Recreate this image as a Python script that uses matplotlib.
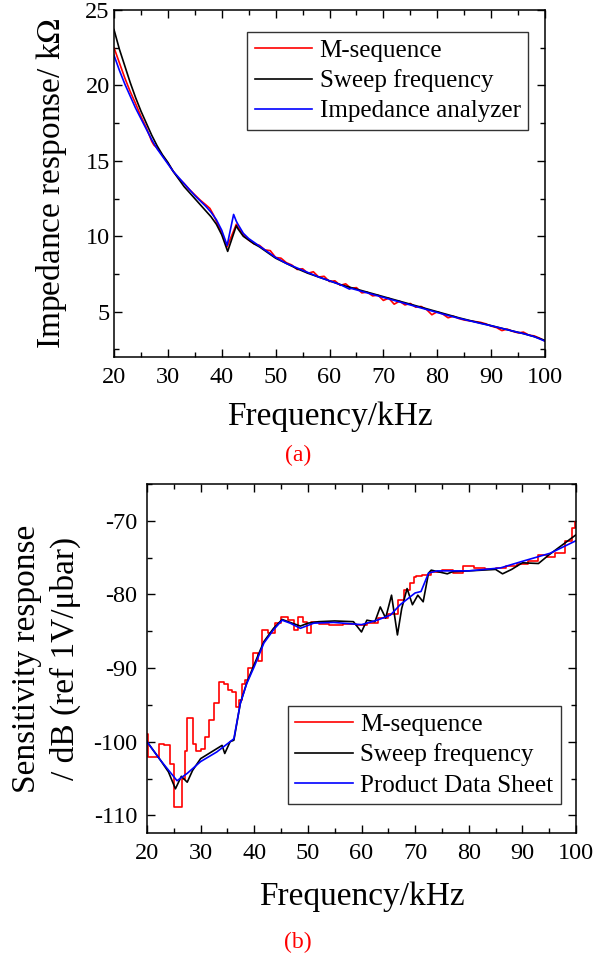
import numpy as np
import matplotlib
matplotlib.use("Agg")
import matplotlib.pyplot as plt
from matplotlib.ticker import MultipleLocator

plt.rcParams['font.family'] = ['Liberation Serif', 'DejaVu Serif']
plt.rcParams['mathtext.fontset'] = 'stix'
plt.rcParams['axes.unicode_minus'] = False

# ---- (a) impedance response, kOhm ----
imp_f = [20, 21, 22, 23, 24, 25, 26, 27, 28, 29, 30, 31, 32, 33, 34, 35, 36, 37, 38, 39,
         40, 41, 42.2, 42.7, 43, 44, 45, 46, 47, 48, 50, 52, 54, 56, 58, 60, 62, 63.7, 64,
         66, 68, 70, 72, 74, 76, 78, 80, 82, 84, 86, 88, 90, 92, 94, 96, 98, 100]
imp_analyzer = [22.0, 21.0, 20.1, 19.3, 18.5, 17.8, 17.1, 16.4, 15.8, 15.3, 14.8, 14.3, 13.9,
                13.5, 13.1, 12.7, 12.35, 12.0, 11.6, 11.1, 10.4, 9.4, 11.45, 11.0, 10.8, 10.2,
                9.85, 9.6, 9.35, 9.1, 8.6, 8.2, 7.9, 7.6, 7.3, 7.05, 6.8, 6.5, 6.55, 6.35, 6.15,
                5.95, 5.75, 5.55, 5.35, 5.15, 4.95, 4.75, 4.57, 4.4, 4.23, 4.07, 3.9, 3.72,
                3.55, 3.35, 3.05]

sweep_f = [20, 21, 22, 23, 24, 25, 26, 27, 28, 29, 30, 31, 32, 33, 34, 35, 36, 37, 38, 39,
           40, 41.1, 42.7, 43, 44, 45, 46, 47, 48, 50, 52, 54, 56, 58, 60, 62, 64, 66, 68,
           70, 72, 74, 76, 78, 80, 82, 84, 86, 88, 90, 92, 94, 96, 98, 100]
sweep_imp = [23.7, 22.4, 21.3, 20.2, 19.2, 18.3, 17.5, 16.7, 16.0, 15.4, 14.9, 14.3, 13.8,
             13.3, 12.9, 12.5, 12.1, 11.7, 11.3, 10.8, 10.1, 9.0, 10.7, 10.5, 10.0, 9.75, 9.5,
             9.3, 9.05, 8.55, 8.2, 7.85, 7.55, 7.3, 7.05, 6.8, 6.6, 6.4, 6.2, 6.0, 5.8, 5.6,
             5.4, 5.2, 5.0, 4.8, 4.6, 4.42, 4.25, 4.08, 3.9, 3.72, 3.55, 3.35, 3.1]

mseq_f = [20, 21, 22, 23, 24, 25, 26, 27, 27.4, 28, 29, 30, 31, 32, 33, 34, 35, 36, 37, 37.8,
          38.5, 39, 40, 41, 42.7, 43, 44, 45, 46, 47, 48, 49, 50, 51, 52, 53, 54, 55, 56, 57,
          58, 59, 60, 61, 62, 63, 64, 65, 66, 67, 68, 69, 70, 71, 72, 73, 74, 75, 76, 77, 78,
          79, 80, 81, 82, 83, 84, 85, 86, 87, 88, 89, 90, 91, 92, 93, 94, 95, 96, 97, 98, 99, 100]
mseq_imp = [22.5, 21.5, 20.5, 19.6, 18.8, 17.95, 17.2, 16.3, 16.05, 15.85, 15.35, 14.85, 14.3,
            13.85, 13.5, 13.1, 12.75, 12.4, 12.1, 11.85, 11.4, 11.0, 10.2, 9.3, 10.8, 10.6,
            10.1, 9.75, 9.5, 9.4, 9.1, 9.05, 8.6, 8.55, 8.25, 8.1, 7.8, 7.85, 7.55, 7.65, 7.3,
            7.35, 7.0, 7.05, 6.75, 6.85, 6.55, 6.6, 6.25, 6.3, 6.05, 6.1, 5.75, 5.9, 5.5, 5.7,
            5.45, 5.55, 5.3, 5.35, 5.15, 4.8, 5.0, 4.85, 4.6, 4.7, 4.55, 4.45, 4.4, 4.35, 4.3,
            4.2, 4.05, 3.95, 3.75, 3.85, 3.7, 3.6, 3.65, 3.45, 3.4, 3.25, 3.05]

# ---- (b) sensitivity response, dB ----
pds_f = [20, 22.5, 25.6, 27.5, 30, 33, 35.5, 36.2, 37.4, 38.6, 40, 41.8, 43.6, 45.2, 46.7,
         48.6, 51.1, 54.8, 60, 62.9, 65.4, 67.2, 70, 71.1, 72.5, 74.1, 80, 85.9, 90, 95.2, 100]
pds_db = [-100.0, -102.5, -105.3, -104.3, -102.7, -101.4, -100.0, -99.6, -94.8, -92.1, -89.8,
          -86.6, -84.8, -83.5, -83.9, -84.6, -83.9, -83.8, -84.1, -83.5, -82.8, -81.4, -79.8,
          -79.6, -77.1, -76.8, -76.8, -76.4, -75.5, -74.4, -72.7]

sweep2_f = [20, 22.5, 24, 25.3, 26.4, 27.5, 28.5, 30, 32, 34, 34.5, 35.5, 36.2, 37.4, 38.6,
            40, 41.8, 43.6, 45.2, 46.7, 48.6, 50, 52, 55, 58.5, 60, 61, 62.5, 63.5, 64.5,
            65.6, 66.7, 67.5, 68.5, 69.5, 70.5, 71.5, 72.5, 73, 76, 77, 80, 85, 86.3, 88, 90,
            93, 95, 100]
sweep2_db = [-100.0, -102.5, -104.1, -106.4, -104.7, -105.5, -103.9, -102.3, -101.4, -100.5,
             -101.6, -100.0, -99.8, -94.8, -92.0, -89.5, -86.4, -84.6, -83.4, -83.8, -84.3,
             -83.9, -83.7, -83.6, -83.7, -85.1, -83.5, -83.7, -81.7, -83.2, -80.1, -85.5,
             -81.9, -79.2, -81.4, -80.1, -81.0, -77.1, -76.7, -77.2, -76.9, -76.8, -76.6,
             -77.2, -76.6, -75.7, -75.8, -74.6, -71.9]

mseq2_f = [20, 20.5, 22, 22.5, 24, 24.7, 25.5, 26.2, 26.8, 27.3, 27.8, 28.2, 28.8, 29.5, 30.5,
           31.3, 32, 33, 33.8, 34.8, 35.5, 36.3, 37, 37.4, 38, 38.6, 39.2, 40.3, 41, 42, 43.3,
           44.5, 45.5, 47, 47.8, 48.5, 49.5, 50.2, 51, 53, 55, 58, 60, 62, 64, 66, 67.5, 68.5,
           69.5, 70, 70.5, 72, 74, 76, 78, 80, 82, 84, 86, 88, 90, 92, 94, 95, 97, 99, 99.6, 100]
mseq2_db = [-98.9, -102.1, -102.1, -100.3, -100.5, -103.0, -108.9, -108.9, -105.0, -101.2,
            -96.8, -96.8, -100.3, -101.2, -101.0, -99.3, -97.1, -94.8, -91.9, -92.1, -93.0,
            -93.2, -95.3, -94.4, -92.1, -91.6, -90.0, -88.0, -89.1, -84.8, -85.3, -83.9, -83.0,
            -83.5, -84.8, -83.0, -83.7, -85.3, -83.8, -84.0, -84.1, -84.0, -84.1, -83.9, -83.2,
            -82.6, -80.7, -79.4, -78.5, -77.6, -77.5, -77.3, -76.9, -76.7, -77.1, -76.1, -76.4,
            -76.6, -76.4, -76.2, -75.9, -75.4, -74.6, -74.9, -74.4, -72.8, -71.0, -70.1]

fig = plt.figure(figsize=(5.95, 9.6), dpi=100)
W, H = 595.0, 960.0

ax1 = fig.add_axes([114 / W, 1 - 357 / H, 431 / W, 347 / H])
ax2 = fig.add_axes([147 / W, 1 - 833 / H, 429 / W, 349 / H])

lw = 1.2
ax1.plot(mseq_f, mseq_imp, color='#ff0000', lw=lw, label='M-sequence')
ax1.plot(sweep_f, sweep_imp, color='black', lw=lw, label='Sweep frequency')
ax1.plot(imp_f, imp_analyzer, color='#0000ff', lw=lw, label='Impedance analyzer')

ax2.plot(mseq2_f, mseq2_db, color='#ff0000', lw=lw, label='M-sequence', drawstyle='steps-mid')
ax2.plot(sweep2_f, sweep2_db, color='black', lw=lw, label='Sweep frequency')
ax2.plot(pds_f, pds_db, color='#0000ff', lw=lw, label='Product Data Sheet')

for ax in (ax1, ax2):
    ax.set_xlim(20, 100)
    ax.xaxis.set_major_locator(MultipleLocator(10))
    ax.xaxis.set_minor_locator(MultipleLocator(5))
    ax.tick_params(which='both', direction='in', top=True, right=True, labelsize=17.5)
    ax.tick_params(which='major', length=6, width=1)
    ax.tick_params(which='minor', length=3.5, width=1)
    ax.tick_params(axis='x', pad=7)
    for s in ax.spines.values():
        s.set_linewidth(1.1)
    ax.set_xlabel('Frequency/kHz', fontsize=24)
    ax.xaxis.label.set_verticalalignment('center')

ax1.set_ylim(2, 25)
ax1.yaxis.set_major_locator(MultipleLocator(5))
ax1.yaxis.set_minor_locator(MultipleLocator(2.5))
ax1.tick_params(axis='y', pad=3)
ax1.set_ylabel('Impedance response/ k$\\Omega$', fontsize=24)
ax1.yaxis.set_label_coords(-0.105, 0.5)
ax1.xaxis.set_label_coords(0.5, -0.173)

ax2.set_ylim(-112.4, -65)
ax2.yaxis.set_major_locator(MultipleLocator(10))
ax2.yaxis.set_minor_locator(MultipleLocator(5))
ax2.tick_params(axis='y', pad=7)
ax2.set_ylabel('Sensitivity response\n/ dB (ref 1V/\u03bcbar)', fontsize=24, linespacing=1.3)
ax2.yaxis.set_label_coords(-0.155, 0.5)
ax2.xaxis.set_label_coords(0.5, -0.183)

leg_kw = dict(fontsize=18, frameon=True, fancybox=False, edgecolor='black',
              handlelength=2.3, handletextpad=0.3, borderpad=0.3, labelspacing=0.3,
              borderaxespad=0)
leg1 = ax1.legend(loc='upper right', bbox_to_anchor=((528 - 114) / 431, 1 - (32 - 10) / 347), **leg_kw)
leg2 = ax2.legend(loc='lower right', bbox_to_anchor=((561 - 147) / 429, (833 - 804) / 349), **leg_kw)
for leg in (leg1, leg2):
    leg.get_frame().set_linewidth(1.0)

fig.text(298 / W, 1 - 455 / H, '(a)', color='#ff0000', fontsize=17, ha='center', va='center')
fig.text(298 / W, 1 - 942 / H, '(b)', color='#ff0000', fontsize=17, ha='center', va='center')

fig.savefig('out.png', dpi=100)
